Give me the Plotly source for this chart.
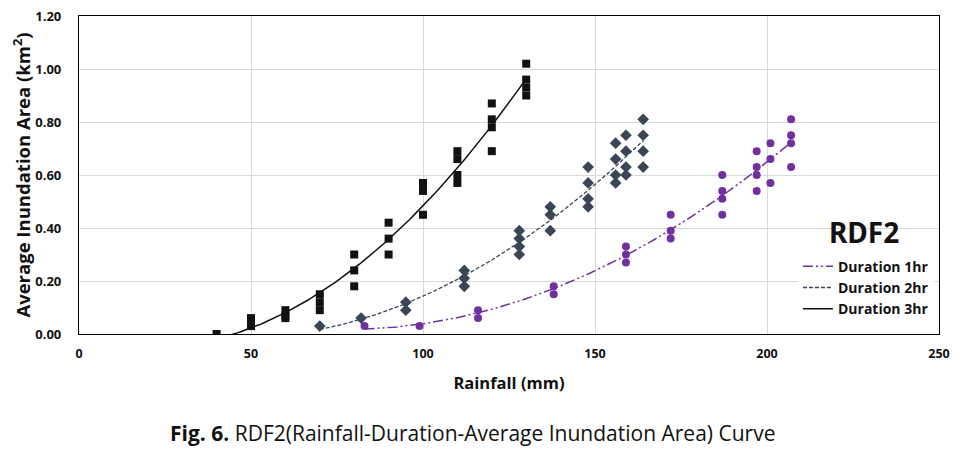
import numpy as np
import plotly.graph_objects as go

# ---- data ----
x_1hr = [83, 99, 116, 116, 138, 138, 159, 159, 159, 172, 172, 172,
         187, 187, 187, 187, 197, 197, 197, 197, 201, 201, 201, 207, 207, 207, 207]
y_1hr = [0.03, 0.03, 0.09, 0.06, 0.18, 0.15, 0.33, 0.30, 0.27, 0.45, 0.39, 0.36,
         0.60, 0.54, 0.51, 0.45, 0.69, 0.63, 0.60, 0.54, 0.72, 0.66, 0.57, 0.81, 0.75, 0.72, 0.63]

x_2hr = [70, 82, 95, 95, 112, 112, 112, 128, 128, 128, 128, 137, 137, 137,
         148, 148, 148, 148, 156, 156, 156, 156, 159, 159, 159, 159, 164, 164, 164, 164]
y_2hr = [0.03, 0.06, 0.12, 0.09, 0.24, 0.21, 0.18, 0.39, 0.36, 0.33, 0.30, 0.48, 0.45, 0.39,
         0.63, 0.57, 0.51, 0.48, 0.72, 0.66, 0.60, 0.57, 0.75, 0.69, 0.63, 0.60, 0.81, 0.75, 0.69, 0.63]

x_3hr = [40, 50, 50, 60, 60, 60, 70, 70, 70, 80, 80, 80, 90, 90, 90, 100, 100, 100,
         110, 110, 110, 110, 120, 120, 120, 120, 130, 130, 130, 130]
y_3hr = [0.00, 0.06, 0.03, 0.09, 0.07, 0.06, 0.15, 0.12, 0.09, 0.30, 0.24, 0.18,
         0.42, 0.36, 0.30, 0.57, 0.54, 0.45, 0.69, 0.66, 0.60, 0.57, 0.87, 0.81, 0.78, 0.69,
         1.02, 0.96, 0.93, 0.90]

series_names = ["Duration 1hr", "Duration 2hr", "Duration 3hr"]
x_ticks = [0, 50, 100, 150, 200, 250]
y_ticks = [0.0, 0.2, 0.4, 0.6, 0.8, 1.0, 1.2]

c1 = "#7030a0"
c2 = "#3a4556"
c3 = "#111111"

OS = "Open Sans, sans-serif"

fig = go.Figure()

def trend(xs, ys):
    p = np.polyfit(xs, ys, 2)
    xx = np.linspace(min(xs), max(xs), 120)
    return xx, np.polyval(p, xx)

# markers
fig.add_trace(go.Scatter(x=x_1hr, y=y_1hr, mode="markers", showlegend=False,
                         marker=dict(symbol="circle", size=8, color=c1)))
fig.add_trace(go.Scatter(x=x_2hr, y=y_2hr, mode="markers", showlegend=False,
                         marker=dict(symbol="diamond", size=9, color=c2)))
fig.add_trace(go.Scatter(x=x_3hr, y=y_3hr, mode="markers", showlegend=False,
                         marker=dict(symbol="square", size=8, color=c3)))

# trend lines
xx, yy = trend(x_1hr, y_1hr)
fig.add_trace(go.Scatter(x=xx, y=yy, mode="lines", name=series_names[0],
                         line=dict(color=c1, width=1.5, dash="10px,3px,2px,3px,2px,3px")))
xx, yy = trend(x_2hr, y_2hr)
fig.add_trace(go.Scatter(x=xx, y=yy, mode="lines", name=series_names[1],
                         line=dict(color=c2, width=1.3, dash="4px,2px")))
xx, yy = trend(x_3hr, y_3hr)
fig.add_trace(go.Scatter(x=xx, y=yy, mode="lines", name=series_names[2],
                         line=dict(color=c3, width=1.5)))

# page body has an 8px margin: figure is drawn at (8, 8)
fig.update_layout(
    width=963, height=441,
    margin=dict(l=71, r=32, t=8, b=115),
    paper_bgcolor="white", plot_bgcolor="white",
    showlegend=True,
    legend=dict(x=0.836, y=0.262, xanchor="left", yanchor="top",
                bgcolor="white", borderwidth=0,
                font=dict(family=OS, size=14, color="#111", weight="bold"),
                tracegroupgap=0, itemwidth=30),
    xaxis=dict(range=[0, 250], tickvals=x_ticks,
               ticktext=[str(v) for v in x_ticks],
               automargin=False, ticklabeloverflow="allow",
               ticks="outside", ticklen=8, tickcolor="rgba(0,0,0,0)",
               showgrid=True, gridcolor="#d9d9d9", gridwidth=1,
               showline=True, linecolor="black", linewidth=1.2, mirror=True,
               tickfont=dict(family=OS, size=12.5, color="#111", weight="bold"),
               zeroline=False,
               title=dict(text="Rainfall (mm)", standoff=16,
                          font=dict(family=OS, size=16.5, color="#111", weight="bold"))),
    yaxis=dict(range=[0, 1.2], tickvals=y_ticks,
               ticktext=[f"{v:.2f}" for v in y_ticks],
               automargin=False, ticklabeloverflow="allow",
               ticks="outside", ticklen=14, tickcolor="rgba(0,0,0,0)",
               showgrid=True, gridcolor="#d9d9d9", gridwidth=1,
               showline=True, linecolor="black", linewidth=1.2, mirror=True,
               tickfont=dict(family=OS, size=13, color="#111", weight="bold"),
               zeroline=False,
               title=dict(text="Average Inundation Area (km<sup>2</sup>)", standoff=10,
                          font=dict(family=OS, size=18.5, color="#111", weight="bold"))),
    annotations=[
        dict(text="<b>RDF2</b>", x=0.913, y=0.32, xref="paper", yref="paper",
             xanchor="center", yanchor="middle", showarrow=False,
             font=dict(family="Noto Sans, sans-serif", size=28, color="#111")),
        dict(text="<b>Fig. 6.</b> RDF2(Rainfall-Duration-Average Inundation Area) Curve",
             x=0.458, y=-0.311, xref="paper", yref="paper",
             xanchor="center", yanchor="middle", showarrow=False,
             font=dict(family=OS, size=21, color="#111")),
    ],
)

fig.write_html("out.html")
